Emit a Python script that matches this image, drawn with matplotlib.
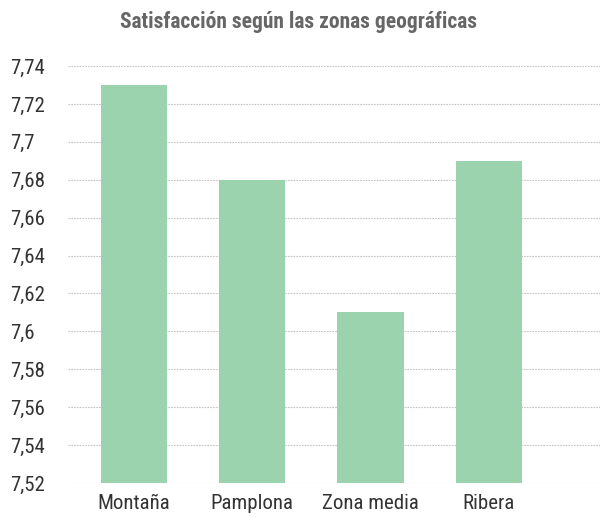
import matplotlib
matplotlib.use("Agg")
import matplotlib.pyplot as plt
from matplotlib import font_manager
from matplotlib.ticker import FuncFormatter

categories = ["Montaña", "Pamplona", "Zona media", "Ribera"]
values = [7.73, 7.68, 7.61, 7.69]
yticks = [7.52, 7.54, 7.56, 7.58, 7.6, 7.62, 7.64, 7.66, 7.68, 7.7, 7.72, 7.74]

names = {f.name for f in font_manager.fontManager.ttflist}
fam = None
for cand in ["Roboto Condensed", "Liberation Sans Narrow", "Roboto"]:
    if cand in names:
        fam = cand
        break
plt.rcParams['font.family'] = [fam, 'DejaVu Sans']

fig = plt.figure(figsize=(6.01, 5.17), dpi=100)
ax = fig.add_axes([68/601, 1-483/517, (600-68)/601, (483-66)/517])

x = list(range(len(categories)))
ax.bar(x, values, width=0.56, color="#9BD3AE", zorder=2)
ax.set_ylim(7.52, 7.74)
ax.set_xlim(-0.559, 3.94)
ax.set_yticks(yticks)
ax.yaxis.set_major_formatter(FuncFormatter(lambda v, p: ("%g" % round(v, 2)).replace(".", ",")))
ax.set_xticks(x)
ax.set_xticklabels(categories)
ax.grid(axis='y', color="#c4c4c4", linestyle=(0, (1.5, 1)), linewidth=0.8, zorder=0)
for s in ax.spines.values():
    s.set_visible(False)
ax.tick_params(axis='both', length=0, labelsize=15, colors="#333333")
ax.tick_params(axis='x', pad=8)
for lab in ax.get_yticklabels():
    lab.set_horizontalalignment('left')
ax.tick_params(axis='y', pad=(68-10)*0.72)
fig.text(298/601, 1-22/517, "Satisfacción según las zonas geográficas", ha='center', va='center',
         fontsize=15.5, fontweight='bold', color="#666666")
fig.savefig("out.png", dpi=100)
